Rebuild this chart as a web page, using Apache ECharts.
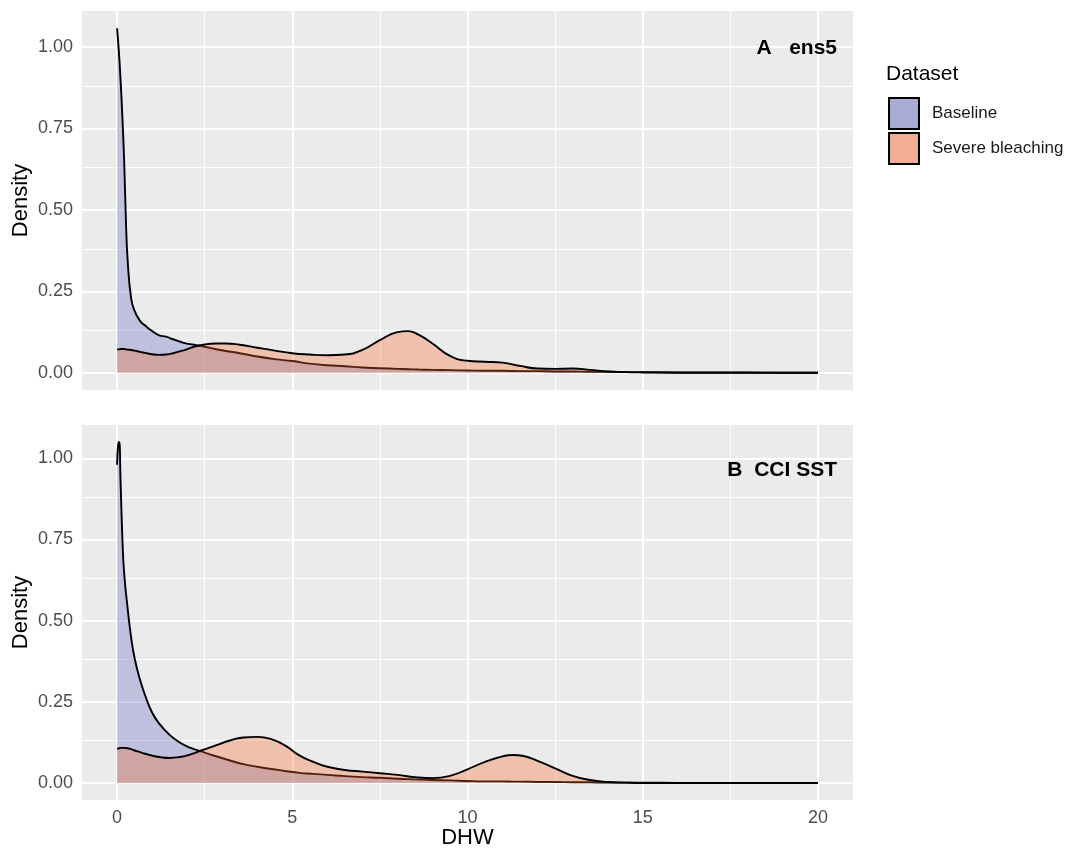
<!DOCTYPE html>
<html>
<head>
<meta charset="utf-8">
<title>DHW density</title>
<script src="https://cdn.jsdelivr.net/npm/echarts@6/dist/echarts.min.js"></script>
<style>
  html, body { margin: 0; padding: 0; background: #fff; }
  #chart { width: 1065px; height: 848px; }
</style>
</head>
<body>
<div id="chart"></div>
<script>
// ---- data ----
// panel A: ens5
const xA = [0, 0.05, 0.1, 0.15, 0.2, 0.25, 0.3, 0.4, 0.5, 0.65, 0.8, 1.0, 1.2, 1.4, 1.6, 1.9, 2.2, 2.5, 2.8, 3.1,
  3.5, 4.0, 4.5, 5.0, 5.5, 6.0, 6.5, 7.0, 7.5, 8.0, 8.3, 8.6, 9.0, 9.5, 10.0, 10.5, 11.0, 11.5, 12.0, 12.5,
  13.0, 13.5, 14.0, 14.5, 15, 16, 17, 18, 19, 20]
const baselineA = [1.058, 0.99, 0.9, 0.79, 0.66, 0.48, 0.35, 0.23, 0.19, 0.16, 0.145, 0.128, 0.115, 0.111, 0.103, 0.092, 0.086, 0.08, 0.073, 0.067,
  0.06, 0.05, 0.042, 0.036, 0.028, 0.023, 0.02, 0.016, 0.014, 0.012, 0.011, 0.01, 0.009, 0.008, 0.007, 0.006, 0.006, 0.005, 0.005, 0.004,
  0.004, 0.003, 0.003, 0.002, 0.002, 0.001, 0.001, 0.001, 0, 0]
const severeA = [0.072, 0.072, 0.073, 0.073, 0.073, 0.072, 0.071, 0.07, 0.068, 0.064, 0.061, 0.057, 0.055, 0.056, 0.06, 0.069, 0.08, 0.087, 0.09, 0.09,
  0.086, 0.077, 0.068, 0.06, 0.056, 0.054, 0.056, 0.07, 0.1, 0.125, 0.128, 0.117, 0.09, 0.052, 0.037, 0.034, 0.031, 0.021, 0.013, 0.012,
  0.013, 0.009, 0.004, 0.002, 0.001, 0, 0, 0, 0, 0]

// panel B: CCI SST
const xB = [0, 0.03, 0.06, 0.1, 0.15, 0.2, 0.3, 0.4, 0.5, 0.65, 0.8, 1.0, 1.2, 1.5, 1.8, 2.1, 2.4, 2.8, 3.2, 3.6,
  4.0, 4.4, 4.8, 5.2, 5.6, 6.0, 6.5, 7.0, 7.5, 8.0, 8.5, 9.0, 9.5, 10.0, 10.5, 11.0, 11.3, 11.6, 12.0, 12.5,
  13.0, 13.5, 14.0, 14.5, 15, 16, 17, 18, 19, 20]
const baselineB = [0.98, 1.04, 1.05, 0.93, 0.76, 0.65, 0.54, 0.45, 0.385, 0.32, 0.27, 0.217, 0.183, 0.148, 0.124, 0.108, 0.097, 0.083, 0.07, 0.058,
  0.05, 0.043, 0.037, 0.031, 0.028, 0.025, 0.021, 0.018, 0.016, 0.013, 0.011, 0.009, 0.008, 0.006, 0.005, 0.005, 0.004, 0.004, 0.003, 0.003,
  0.002, 0.002, 0.001, 0.001, 0.001, 0, 0, 0, 0, 0]
const severeB = [0.105, 0.106, 0.107, 0.108, 0.108, 0.108, 0.107, 0.104, 0.1, 0.095, 0.09, 0.084, 0.08, 0.077, 0.08, 0.088, 0.1, 0.115, 0.13, 0.14,
  0.142, 0.135, 0.115, 0.085, 0.065, 0.05, 0.04, 0.035, 0.03, 0.025, 0.018, 0.015, 0.022, 0.042, 0.065, 0.082, 0.086, 0.083, 0.068, 0.045,
  0.022, 0.009, 0.003, 0.001, 0, 0, 0, 0, 0, 0]

// ticks / grid breaks
const xTicks = [0, 5, 10, 15, 20]
const xMinor = [2.5, 7.5, 12.5, 17.5]
const yTicks = [0, 0.25, 0.5, 0.75, 1]
const yMinor = [0.125, 0.375, 0.625, 0.875]

const seriesNames = ['Baseline', 'Severe bleaching']

// ---- styling ----
const FONT = '"Liberation Sans", Arial, Helvetica, sans-serif'
const fillBaseline = 'rgba(85, 92, 188, 0.3)'
const fillSevere = 'rgba(250, 105, 45, 0.32)'
const keyBaseline = '#A9ABD7'
const keySevere = '#F2AE94'

const pairs = (xs, ys) => xs.map((x, i) => [x, ys[i]])

const makeXAxis = (gridIndex, withLabels) => ({
  type: 'value',
  gridIndex,
  min: -1,
  max: 21,
  axisLine: { show: false },
  splitLine: { show: false },
  axisTick: { show: true, customValues: xTicks, length: 5, lineStyle: { color: '#333', width: 1.8 } },
  axisLabel: {
    show: withLabels,
    customValues: xTicks,
    margin: 9,
    color: '#4D4D4D',
    fontSize: 18,
    fontFamily: FONT
  },
  name: withLabels ? 'DHW' : '',
  nameLocation: 'middle',
  nameGap: 27,
  nameMoveOverlap: false,
  nameTextStyle: { fontSize: 22, color: '#000', fontFamily: FONT }
})

const makeYAxis = (gridIndex, min, max) => ({
  type: 'value',
  gridIndex,
  min,
  max,
  axisLine: { show: false },
  splitLine: { show: false },
  axisTick: { show: true, customValues: yTicks, length: 5, lineStyle: { color: '#333', width: 1.8 } },
  axisLabel: {
    customValues: yTicks,
    margin: 9,
    color: '#4D4D4D',
    fontSize: 18,
    fontFamily: FONT,
    formatter: v => v.toFixed(2)
  },
  name: 'Density',
  nameLocation: 'middle',
  nameGap: 50,
  nameMoveOverlap: false,
  nameTextStyle: { fontSize: 22, color: '#000', fontFamily: FONT }
})

// white panel grid drawn as mark lines under the densities
const gridLines = gridIndex => {
  const minorStyle = { color: '#fff', width: 1, type: 'solid', opacity: 1 }
  const majorStyle = { color: '#fff', width: 2, type: 'solid', opacity: 1 }
  return {
    type: 'line',
    xAxisIndex: gridIndex,
    yAxisIndex: gridIndex,
    data: [],
    silent: true,
    z: 1,
    markLine: {
      z: 1,
      silent: true,
      animation: false,
      symbol: 'none',
      label: { show: false },
      emphasis: { disabled: true },
      data: [
        ...xMinor.map(v => ({ xAxis: v, lineStyle: minorStyle })),
        ...yMinor.map(v => ({ yAxis: v, lineStyle: minorStyle })),
        ...xTicks.map(v => ({ xAxis: v, lineStyle: majorStyle })),
        ...yTicks.map(v => ({ yAxis: v, lineStyle: majorStyle }))
      ]
    }
  }
}

const densitySeries = (name, gridIndex, xs, ys, fill, key, z) => ({
  name,
  type: 'line',
  xAxisIndex: gridIndex,
  yAxisIndex: gridIndex,
  data: pairs(xs, ys),
  smooth: 0.5,
  showSymbol: false,
  symbol: 'none',
  silent: true,
  z,
  itemStyle: { color: key },
  lineStyle: { color: '#000', width: 1.9 },
  areaStyle: { color: fill, opacity: 1 }
})

const chart = echarts.init(document.getElementById('chart'))
const option = {
  animation: false,
  backgroundColor: '#fff',
  textStyle: { fontFamily: FONT },
  title: [
    { text: 'Dataset', left: 886, top: 64, padding: 0, textStyle: { fontSize: 21, fontWeight: 'normal', color: '#000', fontFamily: FONT } },
    { text: 'A   ens5', right: 228, top: 38, padding: 0, textStyle: { fontSize: 21, fontWeight: 'bold', color: '#000', fontFamily: FONT } },
    { text: 'B  CCI SST', right: 228, top: 460, padding: 0, textStyle: { fontSize: 21, fontWeight: 'bold', color: '#000', fontFamily: FONT } }
  ],
  legend: {
    orient: 'vertical',
    left: 888,
    top: 97,
    padding: 0,
    itemWidth: 30,
    itemHeight: 31,
    itemGap: 2,
    icon: 'rect',
    selectedMode: false,
    itemStyle: { borderColor: '#000', borderWidth: 2 },
    textStyle: { fontSize: 17, color: '#1A1A1A', fontFamily: FONT, padding: [0, 0, 0, 8] },
    data: [
      { name: seriesNames[0], itemStyle: { color: keyBaseline, borderColor: '#000', borderWidth: 2 } },
      { name: seriesNames[1], itemStyle: { color: keySevere, borderColor: '#000', borderWidth: 2 } }
    ]
  },
  grid: [
    { left: 82, top: 11, width: 771, height: 379, outerBoundsMode: 'none', show: true, backgroundColor: '#EBEBEB', borderWidth: 0 },
    { left: 82, top: 425, width: 771, height: 375, outerBoundsMode: 'none', show: true, backgroundColor: '#EBEBEB', borderWidth: 0 }
  ],
  xAxis: [makeXAxis(0, false), makeXAxis(1, true)],
  yAxis: [makeYAxis(0, -0.0529, 1.1109), makeYAxis(1, -0.0525, 1.1025)],
  series: [
    gridLines(0),
    gridLines(1),
    densitySeries(seriesNames[0], 0, xA, baselineA, fillBaseline, keyBaseline, 3),
    densitySeries(seriesNames[1], 0, xA, severeA, fillSevere, keySevere, 4),
    densitySeries(seriesNames[0], 1, xB, baselineB, fillBaseline, keyBaseline, 3),
    densitySeries(seriesNames[1], 1, xB, severeB, fillSevere, keySevere, 4)
  ]
}
chart.setOption(option)
</script>
</body>
</html>
